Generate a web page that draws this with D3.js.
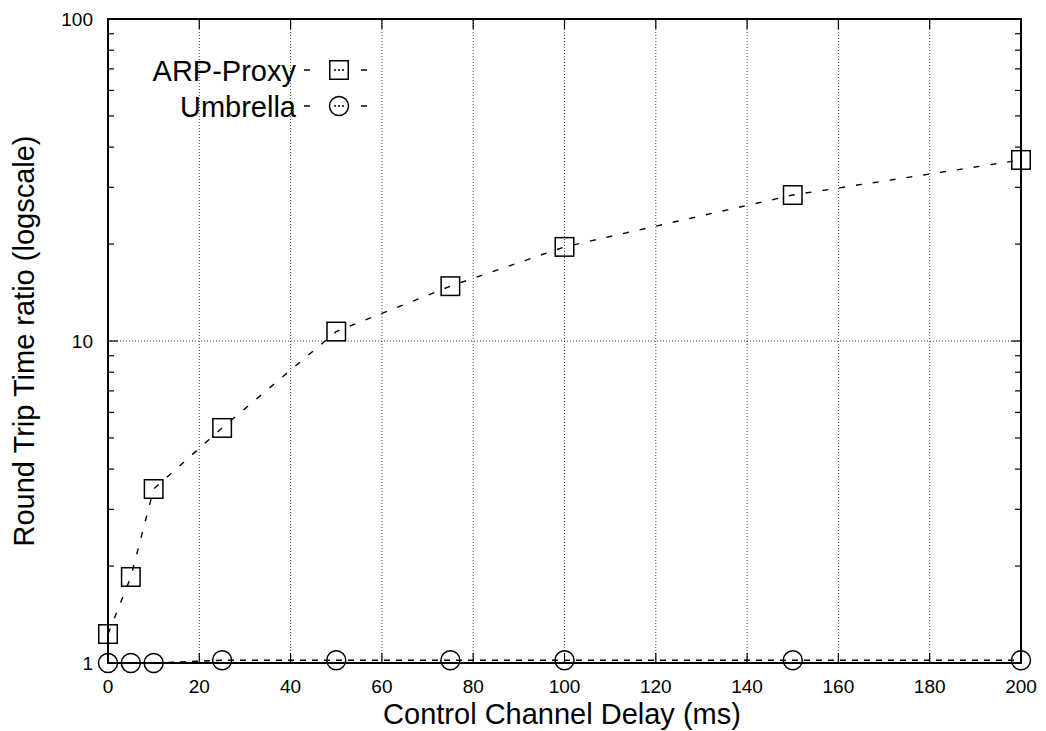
<!DOCTYPE html>
<html>
<head>
<meta charset="utf-8">
<script src="https://cdn.jsdelivr.net/npm/d3@7"></script>
<style>
  html, body { margin: 0; padding: 0; background: #fff; }
  svg { display: block; font-family: "Liberation Sans", Arial, Helvetica, sans-serif; }
</style>
</head>
<body>
<svg id="chart" width="1046" height="731"></svg>
<script>
// ---- data ----
const delays = [0, 5, 10, 25, 50, 75, 100, 150, 200];
const arpProxy = [1.23, 1.85, 3.47, 5.37, 10.7, 14.8, 19.6, 28.4, 36.5];
const umbrella = [1.0, 1.0, 1.0, 1.02, 1.02, 1.02, 1.02, 1.02, 1.02];
const xTicks = [0, 20, 40, 60, 80, 100, 120, 140, 160, 180, 200];
const yTicks = [1, 10, 100];
const seriesNames = ["ARP-Proxy", "Umbrella"];
const xTitle = "Control Channel Delay (ms)";
const yTitle = "Round Trip Time ratio (logscale)";

// ---- layout ----
const L = 108, R = 1021, T = 19, B = 663;
const svg = d3.select("#chart");
const x = d3.scaleLinear().domain([0, 200]).range([L, R]);
const y = d3.scaleLog().domain([1, 100]).range([B, T]);

// grid
const grid = svg.append("g").attr("stroke", "#444").attr("stroke-width", 1).attr("stroke-dasharray", "1,2");
xTicks.filter(d => d > 0 && d < 200).forEach(d => {
  grid.append("line").attr("x1", x(d)).attr("x2", x(d)).attr("y1", B).attr("y2", T);
});
yTicks.filter(d => d > 1 && d < 100).forEach(d => {
  grid.append("line").attr("x1", L).attr("x2", R).attr("y1", y(d)).attr("y2", y(d));
});

// ticks
const tk = svg.append("g").attr("stroke", "#000").attr("stroke-width", 1.2);
xTicks.forEach(d => {
  tk.append("line").attr("x1", x(d)).attr("x2", x(d)).attr("y1", B).attr("y2", B - 10);
  tk.append("line").attr("x1", x(d)).attr("x2", x(d)).attr("y1", T).attr("y2", T + 10);
});
const minor = [];
[1, 10].forEach(dec => { for (let m = 2; m <= 9; m++) minor.push(dec * m); });
minor.forEach(d => {
  tk.append("line").attr("x1", L).attr("x2", L + 6).attr("y1", y(d)).attr("y2", y(d));
  tk.append("line").attr("x1", R).attr("x2", R - 6).attr("y1", y(d)).attr("y2", y(d));
});
yTicks.forEach(d => {
  tk.append("line").attr("x1", L).attr("x2", L + 10).attr("y1", y(d)).attr("y2", y(d));
  tk.append("line").attr("x1", R).attr("x2", R - 10).attr("y1", y(d)).attr("y2", y(d));
});

// border
svg.append("rect").attr("x", L).attr("y", T).attr("width", R - L).attr("height", B - T)
  .attr("fill", "none").attr("stroke", "#000").attr("stroke-width", 2);

// tick labels
const lab = svg.append("g").attr("font-size", 19).attr("fill", "#000");
xTicks.forEach(d => {
  lab.append("text").attr("x", x(d)).attr("y", 693).attr("text-anchor", "middle").text(d);
});
yTicks.forEach(d => {
  lab.append("text").attr("x", 93).attr("y", y(d) + 7).attr("text-anchor", "end").text(d);
});

// axis titles
svg.append("text").attr("x", 562).attr("y", 724).attr("text-anchor", "middle")
  .attr("font-size", 29).text(xTitle);
svg.append("text").attr("transform", "translate(34," + 341 + ") rotate(-90)")
  .attr("text-anchor", "middle").attr("font-size", 29).text(yTitle);

// lines
const line = d3.line().x(d => x(d[0])).y(d => y(d[1]));
const arpData = delays.map((d, i) => [d, arpProxy[i]]);
const umbData = delays.map((d, i) => [d, umbrella[i]]);
svg.append("path").datum(arpData).attr("d", line).attr("fill", "none")
  .attr("stroke", "#000").attr("stroke-width", 1.4).attr("stroke-dasharray", "6,11");
svg.append("path").datum(umbData).attr("d", line).attr("fill", "none")
  .attr("stroke", "#000").attr("stroke-width", 1.4).attr("stroke-dasharray", "6,6");

// markers
const S = 18.5;
svg.append("g").selectAll("rect").data(arpData).join("rect")
  .attr("x", d => x(d[0]) - S / 2).attr("y", d => y(d[1]) - S / 2)
  .attr("width", S).attr("height", S).attr("fill", "none").attr("stroke", "#000").attr("stroke-width", 1.5);
svg.append("g").selectAll("circle").data(umbData).join("circle")
  .attr("cx", d => x(d[0])).attr("cy", d => y(d[1])).attr("r", 9.5)
  .attr("fill", "none").attr("stroke", "#000").attr("stroke-width", 1.5);

// legend
const leg = svg.append("g");
const rows = [{ name: seriesNames[0], cy: 70, shape: "rect" },
              { name: seriesNames[1], cy: 106, shape: "circle" }];
rows.forEach(r => {
  leg.append("text").attr("x", 296).attr("y", r.cy + 10.5).attr("text-anchor", "end")
    .attr("font-size", 29).text(r.name);
  [[304, 310], [334, 344], [361, 367]].forEach(seg => {
    leg.append("line").attr("x1", seg[0]).attr("x2", seg[1]).attr("y1", r.cy).attr("y2", r.cy)
      .attr("stroke", "#000").attr("stroke-width", 1.5)
      .attr("stroke-dasharray", seg[1] - seg[0] > 6 ? "2,2" : null);
  });
  if (r.shape === "rect") {
    leg.append("rect").attr("x", 339 - S / 2).attr("y", r.cy - S / 2).attr("width", S).attr("height", S)
      .attr("fill", "none").attr("stroke", "#000").attr("stroke-width", 1.5);
  } else {
    leg.append("circle").attr("cx", 339).attr("cy", r.cy).attr("r", 9.5)
      .attr("fill", "none").attr("stroke", "#000").attr("stroke-width", 1.5);
  }
});
</script>
</body>
</html>
